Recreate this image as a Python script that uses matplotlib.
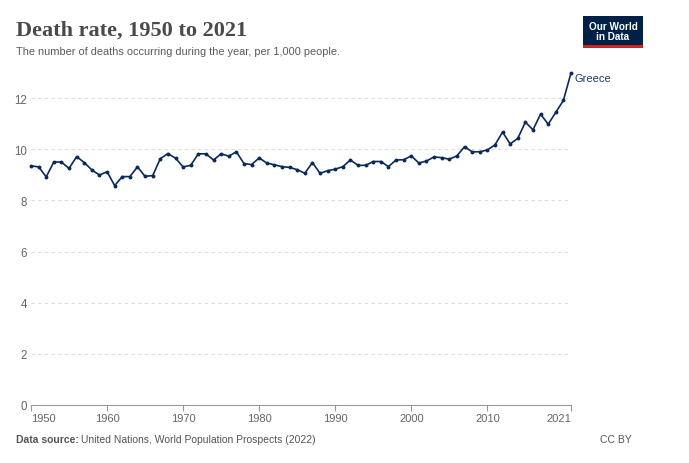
import matplotlib
matplotlib.use("Agg")
import matplotlib.pyplot as plt
from matplotlib.patches import Rectangle

years = list(range(1950, 2022))
death_rate = [
    9.35, 9.31, 8.92, 9.50, 9.50, 9.25, 9.71, 9.48, 9.19, 8.99,
    9.12, 8.58, 8.93, 8.93, 9.31, 8.94, 8.97, 9.63, 9.83, 9.65,
    9.31, 9.37, 9.82, 9.82, 9.58, 9.82, 9.73, 9.90, 9.44, 9.40,
    9.66, 9.46, 9.39, 9.32, 9.29, 9.20, 9.06, 9.48, 9.06, 9.16,
    9.22, 9.32, 9.58, 9.37, 9.37, 9.52, 9.52, 9.32, 9.58, 9.59,
    9.74, 9.46, 9.54, 9.70, 9.67, 9.61, 9.74, 10.10, 9.90, 9.90,
    9.97, 10.17, 10.67, 10.21, 10.42, 11.06, 10.76, 11.37, 10.98, 11.44,
    11.91, 12.98,
]
x_ticks = [1950, 1960, 1970, 1980, 1990, 2000, 2010, 2021]
y_ticks = [0, 2, 4, 6, 8, 10, 12]
country = "Greece"

W, H = 689, 464
fig = plt.figure(figsize=(W / 100, H / 100), dpi=100)
fig.patch.set_facecolor("white")

left, right, top, bottom = 31, 571, 73.5, 406
ax = fig.add_axes([left / W, 1 - bottom / H, (right - left) / W, (bottom - top) / H])
ax.set_xlim(1950, 2021)
ax.set_ylim(0, 13)

line_color = "#0b2a5b"
ax.plot(years, death_rate, color=line_color, lw=1.2, marker="o", ms=1.8,
        clip_on=False, zorder=3)

for yv in y_ticks[1:]:
    ax.axhline(yv, color="#dddddd", lw=0.8, ls=(0, (3, 3)), zorder=1)

for s in ["top", "right", "left"]:
    ax.spines[s].set_visible(False)
ax.spines["bottom"].set_color("#999999")
ax.spines["bottom"].set_linewidth(0.8)

ax.set_yticks(y_ticks)
ax.set_xticks(x_ticks)
ax.tick_params(axis="y", length=0, pad=3, labelsize=8.3, labelcolor="#666666")
ax.tick_params(axis="x", length=4, color="#999999", width=0.8, pad=2,
               labelsize=8, labelcolor="#666666")
for lab in ax.get_xticklabels() + ax.get_yticklabels():
    lab.set_fontfamily("Liberation Sans")
xl = ax.get_xticklabels()
xl[0].set_horizontalalignment("left")
xl[-1].set_horizontalalignment("right")

ax.text(2021 + 0.4, death_rate[-1], country, fontsize=8, color="#1d3d6e",
        va="top", ha="left", family="Liberation Sans", transform=ax.transData)

fig.text(16 / W, 1 - 36 / H, "Death rate, 1950 to 2021", fontsize=16,
         family="Liberation Serif", weight="bold", color="#4a4a4a",
         va="baseline", ha="left")
fig.text(16 / W, 1 - 55 / H,
         "The number of deaths occurring during the year, per 1,000 people.",
         fontsize=7.9, family="Liberation Sans", color="#5b5b5b", va="baseline")

# logo
lx0, ly0, lw_, lh_ = 583, 17, 60, 29
fig.patches.append(Rectangle((lx0 / W, 1 - (ly0 + lh_) / H), lw_ / W, lh_ / H,
                             transform=fig.transFigure, facecolor="#002147",
                             edgecolor="none"))
fig.patches.append(Rectangle((lx0 / W, 1 - (ly0 + lh_ + 2.5) / H), lw_ / W, 2.5 / H,
                             transform=fig.transFigure, facecolor="#ce261e",
                             edgecolor="none"))
fig.text((lx0 + lw_ / 2) / W, 1 - (ly0 + lh_ / 2 + 0.5) / H, "Our World\nin Data",
         fontsize=7.2, color="white", ha="center", va="center", weight="bold",
         family="Liberation Sans", linespacing=1.0)

fig.text(16 / W, 1 - 443 / H, "Data source:", fontsize=7.5, weight="bold",
         family="Liberation Sans", color="#555555", va="baseline")
fig.text(81 / W, 1 - 443 / H, "United Nations, World Population Prospects (2022)",
         fontsize=7.5, family="Liberation Sans", color="#555555", va="baseline")
fig.text(632 / W, 1 - 443 / H, "CC BY", fontsize=7.5, family="Liberation Sans",
         color="#555555", va="baseline", ha="right")

fig.savefig("out.png", dpi=100)
